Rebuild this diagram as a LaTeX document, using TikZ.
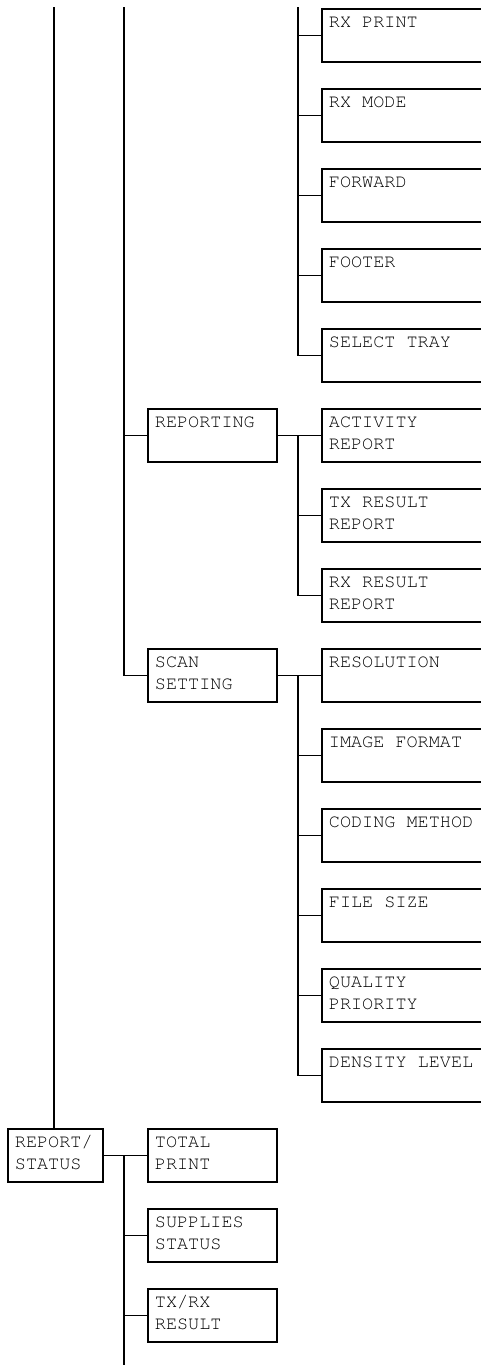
\documentclass[tikz,border=0pt]{standalone}
\usepackage[T1]{fontenc}
\newcommand\menufont{\fontfamily{pcr}\fontsize{18.5pt}{22.4pt}\selectfont}
\begin{document}
\begin{tikzpicture}[x=1pt,y=-1pt,font=\menufont]
    \tikzset{menubox/.style={draw, line width=1.8pt, anchor=north west, inner xsep=7pt, inner ysep=0pt, text height=18.5pt, text depth=34.5pt, align=flush left},
        rootbox/.style={menubox, text width=81pt},
        subbox/.style={menubox, text width=115pt},
        leafbox/.style={menubox, text width=156pt},
        link/.style={line width=1.8pt}}
    \useasboundingbox (0,0) rectangle (481,1365);
    \clip (0,0) rectangle (481,1365);
    % free ends of the trunks
    \coordinate (top1) at (54,7);
    \coordinate (top2) at (124,7);
    \coordinate (top3) at (298,7);
    \coordinate (bot2) at (124,1365);
    % upper leaves
    \node[leafbox] (rxprint) at (321,8) {RX PRINT};
    \node[leafbox] (rxmode) at (321,88) {RX MODE};
    \node[leafbox] (forward) at (321,168) {FORWARD};
    \node[leafbox] (footer) at (321,248) {FOOTER};
    \node[leafbox] (selecttray) at (321,328) {SELECT TRAY};
    % reporting
    \node[subbox] (reporting) at (147,408) {REPORTING};
    \node[leafbox] (activity) at (321,408) {ACTIVITY\\REPORT};
    \node[leafbox] (txresult) at (321,488) {TX RESULT\\REPORT};
    \node[leafbox] (rxresult) at (321,568) {RX RESULT\\REPORT};
    % scan setting
    \node[subbox] (scansetting) at (147,648) {SCAN\\SETTING};
    \node[leafbox] (resolution) at (321,648) {RESOLUTION};
    \node[leafbox] (imageformat) at (321,728) {IMAGE FORMAT};
    \node[leafbox] (codingmethod) at (321,808) {CODING METHOD};
    \node[leafbox] (filesize) at (321,888) {FILE SIZE};
    \node[leafbox] (quality) at (321,968) {QUALITY\\PRIORITY};
    \node[leafbox] (density) at (321,1048) {DENSITY LEVEL};
    % report/status
    \node[rootbox] (reportstatus) at (7,1128) {REPORT/\\STATUS};
    \node[subbox] (totalprint) at (147,1128) {TOTAL\\PRINT};
    \node[subbox] (supplies) at (147,1208) {SUPPLIES\\STATUS};
    \node[subbox] (txrxresult) at (147,1288) {TX/RX\\RESULT};
    % connectors
    \draw[link] (top1) -- (top1 |- reportstatus.north);
    \draw[link] (top2) |- (scansetting.west);
    \draw[link] (reporting.west -| top2) -- (reporting.west);
    \draw[link] (top3) |- (selecttray.west);
    \draw[link] (rxprint.west -| top3) -- (rxprint.west);
    \draw[link] (rxmode.west -| top3) -- (rxmode.west);
    \draw[link] (forward.west -| top3) -- (forward.west);
    \draw[link] (footer.west -| top3) -- (footer.west);
    \draw[link] (reporting.east) -- (activity.west);
    \draw[link] (activity.west -| top3) |- (rxresult.west);
    \draw[link] (txresult.west -| top3) -- (txresult.west);
    \draw[link] (scansetting.east) -- (resolution.west);
    \draw[link] (resolution.west -| top3) |- (density.west);
    \draw[link] (imageformat.west -| top3) -- (imageformat.west);
    \draw[link] (codingmethod.west -| top3) -- (codingmethod.west);
    \draw[link] (filesize.west -| top3) -- (filesize.west);
    \draw[link] (quality.west -| top3) -- (quality.west);
    \draw[link] (reportstatus.east) -- (totalprint.west);
    \draw[link] (reportstatus.east -| bot2) -- (bot2);
    \draw[link] (supplies.west -| bot2) -- (supplies.west);
    \draw[link] (txrxresult.west -| bot2) -- (txrxresult.west);
\end{tikzpicture}
\end{document}
